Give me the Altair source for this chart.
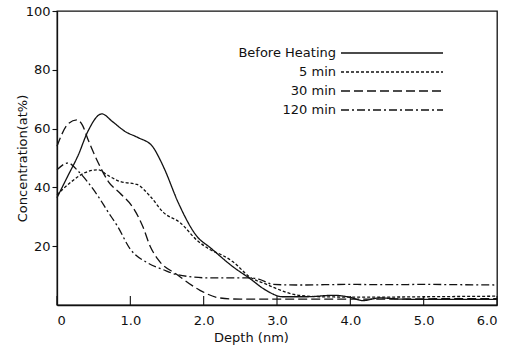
import altair as alt
import pandas as pd

series = ["Before Heating", "5 min", "30 min", "120 min"]
dashes = [[1, 0], [3, 2], [9, 4], [8, 3, 2, 3]]

x_before = [0, 0.15, 0.29, 0.42, 0.61, 0.76, 0.93, 1.1, 1.3, 1.4, 1.47, 1.65, 1.91, 2.09, 2.4, 2.63, 2.85, 3.08, 3.4, 3.77, 4.0, 4.17, 4.4, 4.7, 5.0, 5.5, 6.0]
y_before = [36.5, 44, 51, 59, 65, 62.3, 59, 57, 54, 49.7, 46, 35, 23.3, 19.5, 13, 9, 5, 2.8, 2.8, 3.3, 2.6, 1.5, 2.4, 2.0, 1.9, 1.9, 1.9]

x_5 = [0, 0.2, 0.38, 0.56, 0.7, 0.86, 1.09, 1.27, 1.45, 1.68, 1.91, 2.09, 2.25, 2.4, 2.63, 2.86, 3.0, 3.27, 3.6, 4.0, 4.5, 5.0, 5.5, 6.0]
y_5 = [37.5, 42, 45, 46, 44, 42, 41, 37, 31.5, 28, 22, 18.8, 17, 14.7, 9.5, 7, 5.5, 3.4, 2.8, 2.7, 2.7, 2.8, 2.9, 3.0]

x_30 = [0, 0.15, 0.27, 0.35, 0.42, 0.56, 0.7, 0.86, 1.04, 1.17, 1.27, 1.38, 1.64, 1.95, 2.22, 2.5, 3.0, 3.5, 4.0, 4.5, 5.0, 5.5, 6.0]
y_30 = [54, 61.6, 63, 61, 56.5, 48.5, 42, 38, 33, 26.7, 20, 15.4, 10.3, 5, 2.4, 2.0, 2.0, 2.0, 2.0, 2.0, 2.1, 2.2, 2.2]

x_120 = [0, 0.15, 0.29, 0.42, 0.56, 0.7, 0.82, 1.0, 1.23, 1.45, 1.64, 2.09, 2.45, 2.63, 2.75, 2.95, 3.3, 4.0, 4.5, 5.0, 5.5, 6.0]
y_120 = [46, 48.3, 45.5, 41.8, 37, 31.5, 27, 19, 14.4, 12, 10.3, 9.2, 9.2, 9.2, 8.8, 7, 6.8, 7.0, 6.9, 7.0, 6.9, 6.8]

x_ticks = [0, 1, 2, 3, 4, 5, 6]
y_ticks = [20, 40, 60, 80, 100]

rows = []
for name, xs, ys in zip(series, [x_before, x_5, x_30, x_120], [y_before, y_5, y_30, y_120]):
    for i, (a, b) in enumerate(zip(xs, ys)):
        rows.append({"series": name, "depth": a, "conc": b, "order": i})
df = pd.DataFrame(rows)
leg = pd.DataFrame({"series": series, "rank": list(range(len(series)))})
ticks_df = pd.DataFrame({"t": x_ticks})

FONT = "DejaVu Sans"
dash_scale = alt.Scale(domain=series, range=dashes)

xscale = alt.Scale(domain=[0, 6], nice=False, zero=False)
yscale = alt.Scale(domain=[0, 100], nice=False)

lines = alt.Chart(df).mark_line(color="#111", strokeWidth=1.3, interpolate="monotone").encode(
    x=alt.X("depth:Q", scale=xscale,
            axis=alt.Axis(values=x_ticks, ticks=False, labelPadding=9, title="Depth (nm)",
                          labelExpr="datum.value == 0 ? '0' : format(datum.value, '.1f')",
                          titleX=194, titleY=32, titleAnchor="middle", titleBaseline="middle")),
    y=alt.Y("conc:Q", scale=yscale,
            axis=alt.Axis(values=y_ticks, tickSize=5, labelPadding=2,
                          title="Concentration(at%)", titleX=-35, titleY=147,
                          titleAnchor="middle", titleBaseline="middle")),
    strokeDash=alt.StrokeDash("series:N", scale=dash_scale, legend=None),
    detail="series:N",
    order="order:Q",
)

tick_marks = alt.Chart(ticks_df).mark_rule(color="#111", strokeWidth=1.1).encode(
    x=alt.X("t:Q", scale=xscale),
    y=alt.value(294),
    y2=alt.value(285),
)

leg_y = alt.Y("rank:Q", scale=alt.Scale(domain=[0, 3], range=[42, 99], nice=False, zero=False), axis=None)

leg_text = alt.Chart(leg).mark_text(align="right", baseline="middle", font=FONT, fontSize=13, color="#111").encode(
    x=alt.value(279),
    y=leg_y,
    text="series:N",
)

leg_lines = alt.Chart(leg).mark_rule(color="#111", strokeWidth=1.3).encode(
    x=alt.value(284),
    x2=alt.value(386),
    y=leg_y,
    strokeDash=alt.StrokeDash("series:N", scale=dash_scale, legend=None),
)

main = alt.layer(lines, tick_marks)
legend = alt.layer(leg_text, leg_lines)

chart = alt.layer(main, legend).resolve_scale(y="independent").properties(
    width=440,
    height=294,
    autosize=alt.AutoSizeParams(type="none"),
    padding={"left": 57, "top": 11, "right": 17, "bottom": 45},
).configure_view(
    stroke="#111", strokeWidth=1.3
).configure_axis(
    grid=False,
    domainColor="#111",
    domainWidth=1.3,
    tickColor="#111",
    tickWidth=1.1,
    labelFont=FONT,
    labelFontSize=13,
    labelColor="#111",
    titleFont=FONT,
    titleFontSize=13,
    titleFontWeight="normal",
    titleColor="#111",
)

chart.save("out.html", embed_options={"renderer": "svg", "actions": False})
